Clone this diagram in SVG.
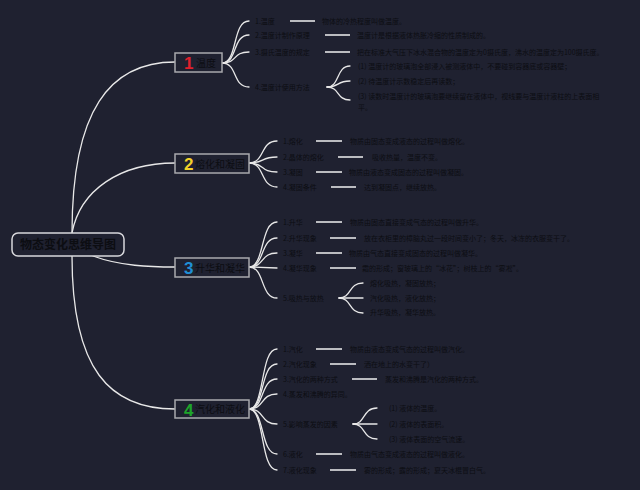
<svg xmlns="http://www.w3.org/2000/svg" width="640" height="490" viewBox="0 0 640 490">
<style>
.bg{fill:#1f2130}
.c{fill:none;stroke:#e8e8e8;stroke-width:1.3;stroke-linecap:round}
.d{fill:none;stroke:#f0f0f0;stroke-width:1.6}
.t{font-family:"Noto Sans CJK SC","Noto Sans",sans-serif;font-size:7px;fill:#0c0d12}
.box{fill:#1f2130;stroke:#a9a9ad;stroke-width:1.5}
.root{fill:#1f2130;stroke:#d8d8dc;stroke-width:1.5}
.lab{font-family:"Noto Sans CJK SC","Noto Sans",sans-serif;font-size:10px;fill:#0c0d12}
.num{font-family:"Liberation Sans",Arial,sans-serif;font-size:17px;font-weight:bold}
</style>
<rect class="bg" x="0" y="0" width="640" height="490"/>
<g id="connectors">
<path class="c" d="M72,233 C72,110 110,62 175,62"/>
<path class="c" d="M72,233 C80,190 120,163 175,163"/>
<path class="c" d="M93,256 C120,266 150,267 175,267"/>
<path class="c" d="M72,256 C72,370 110,409 175,409"/>
<path class="c" d="M222,63 C238,63 232,21 249,21"/>
<path class="c" d="M222,63 C238,63 232,35 249,35"/>
<path class="c" d="M222,63 C238,63 232,52 249,52"/>
<path class="c" d="M222,63 C238,63 232,87 249,87"/>
<path class="c" d="M327,87 C340,87 336,66 350,66"/>
<path class="c" d="M327,87 C340,87 336,81 350,81"/>
<path class="c" d="M327,87 C340,87 336,100 350,100"/>
<path class="c" d="M249,163 C265,163 260,141 277,141"/>
<path class="c" d="M249,163 C265,163 260,157 277,157"/>
<path class="c" d="M249,163 C265,163 260,172 277,172"/>
<path class="c" d="M249,163 C265,163 260,187 277,187"/>
<path class="c" d="M249,267 C265,267 260,222 277,222"/>
<path class="c" d="M249,267 C265,267 260,238 277,238"/>
<path class="c" d="M249,267 C265,267 260,253 277,253"/>
<path class="c" d="M249,267 L277,268"/>
<path class="c" d="M249,267 C265,267 260,298 277,298"/>
<path class="c" d="M339,298 C352,298 348,283 363,283"/>
<path class="c" d="M339,298 L363,298"/>
<path class="c" d="M339,298 C352,298 348,313 363,313"/>
<path class="c" d="M249,409 C265,409 260,349 277,349"/>
<path class="c" d="M249,409 C265,409 260,364 277,364"/>
<path class="c" d="M249,409 C265,409 260,379 277,379"/>
<path class="c" d="M249,409 C265,409 260,394 277,394"/>
<path class="c" d="M249,409 C265,409 260,424 277,424"/>
<path class="c" d="M249,409 C265,409 260,454 277,454"/>
<path class="c" d="M249,409 C265,409 260,470 277,470"/>
<path class="c" d="M353,424 C366,424 362,408 377,408"/>
<path class="c" d="M353,424 L377,424"/>
<path class="c" d="M353,424 C366,424 362,439 377,439"/>
<path class="d" d="M290,21H315M325,35H350M325,52H350"/>
<path class="d" d="M316,141H342M338,157H363M316,172H342M331,187H356"/>
<path class="d" d="M316,222H342M330,238H356M316,253H342M330,268H356"/>
<path class="d" d="M316,349H342M330,364H356M352,379H377M316,454H342M330,470H356"/>
</g>
<g id="root">
<rect class="root" x="12" y="233" width="112" height="23" rx="6"/>
<text x="68" y="249" text-anchor="middle" font-family="'Noto Sans CJK SC',sans-serif" font-size="12" font-weight="bold" fill="#0c0d12">物态变化思维导图</text>
</g>
<g id="n1">
<rect class="box" x="175" y="53" width="47" height="19"/>
<text class="num" x="184" y="69" fill="#e0202c">1</text>
<text class="lab" x="196" y="66.5">温度</text>
<text class="t" x="255" y="23.5">1.温度</text>
<text class="t" x="322" y="23.5">物体的冷热程度叫做温度。</text>
<text class="t" x="255" y="37.5">2.温度计制作原理</text>
<text class="t" x="357" y="37.5">温度计是根据液体热胀冷缩的性质制成的。</text>
<text class="t" x="255" y="54.5">3.摄氏温度的规定</text>
<text class="t" x="357" y="54.5">把在标准大气压下冰水混合物的温度定为0摄氏度，沸水的温度定为100摄氏度。</text>
<text class="t" x="255" y="89.5">4.温度计使用方法</text>
<text class="t" x="358" y="68.5">(1)  温度计的玻璃泡全部浸入被测液体中，不要碰到容器底或容器壁；</text>
<text class="t" x="358" y="83.5">(2)  待温度计示数稳定后再读数；</text>
<text class="t" x="358" y="99">(3)  读数时温度计的玻璃泡要继续留在液体中，视线要与温度计液柱的上表面相</text>
<text class="t" x="358" y="110">平。</text>
</g>
<g id="n2">
<rect class="box" x="175" y="154" width="74" height="19"/>
<text class="num" x="184" y="170" fill="#f2d22a">2</text>
<text class="lab" x="195" y="167.5" font-size="9.5">熔化和凝固</text>
<text class="t" x="283" y="143.5">1.熔化</text>
<text class="t" x="350" y="143.5">物质由固态变成液态的过程叫做熔化。</text>
<text class="t" x="283" y="159.5">2.晶体的熔化</text>
<text class="t" x="372" y="159.5">吸收热量，温度不变。</text>
<text class="t" x="283" y="174.5">3.凝固</text>
<text class="t" x="349" y="174.5">物质由液态变成固态的过程叫做凝固。</text>
<text class="t" x="283" y="189.5">4.凝固条件</text>
<text class="t" x="364" y="189.5">达到凝固点，继续放热。</text>
</g>
<g id="n3">
<rect class="box" x="175" y="258" width="74" height="19"/>
<text class="num" x="184" y="274" fill="#1f8fd6">3</text>
<text class="lab" x="195" y="271.5" font-size="9.5">升华和凝华</text>
<text class="t" x="283" y="224.5">1.升华</text>
<text class="t" x="350" y="224.5">物质由固态直接变成气态的过程叫做升华。</text>
<text class="t" x="283" y="240.5">2.升华现象</text>
<text class="t" x="364" y="240.5">放在衣柜里的樟脑丸过一段时间变小了；冬天，冰冻的衣服变干了。</text>
<text class="t" x="283" y="255.5">3.凝华</text>
<text class="t" x="349" y="255.5">物质由气态直接变成固态的过程叫做凝华。</text>
<text class="t" x="283" y="270.5">4.凝华现象</text>
<text class="t" x="362" y="270.5">霜的形成；窗玻璃上的“冰花”；树枝上的“雾凇”。</text>
<text class="t" x="283" y="300.5">5.吸热与放热</text>
<text class="t" x="370" y="285.5">熔化吸热，凝固放热；</text>
<text class="t" x="370" y="300.5">汽化吸热，液化放热；</text>
<text class="t" x="370" y="315">升华吸热，凝华放热。</text>
</g>
<g id="n4">
<rect class="box" x="175" y="400" width="74" height="18"/>
<text class="num" x="184" y="416" fill="#1ea52a">4</text>
<text class="lab" x="195" y="413" font-size="9.5">汽化和液化</text>
<text class="t" x="283" y="351.5">1.汽化</text>
<text class="t" x="350" y="351.5">物质由液态变成气态的过程叫做汽化。</text>
<text class="t" x="283" y="366.5">2.汽化现象</text>
<text class="t" x="364" y="366.5">洒在地上的水变干了）</text>
<text class="t" x="283" y="381.5">3.汽化的两种方式</text>
<text class="t" x="385" y="381.5">蒸发和沸腾是汽化的两种方式。</text>
<text class="t" x="283" y="396.5">4.蒸发和沸腾的异同。</text>
<text class="t" x="283" y="426.5">5.影响蒸发的因素</text>
<text class="t" x="389" y="410.5">(1)  液体的温度。</text>
<text class="t" x="389" y="426.5">(2)  液体的表面积。</text>
<text class="t" x="389" y="441.5">(3)  液体表面的空气流速。</text>
<text class="t" x="283" y="456.5">6.液化</text>
<text class="t" x="350" y="456.5">物质由气态变成液态的过程叫做液化。</text>
<text class="t" x="283" y="472.5">7.液化现象</text>
<text class="t" x="364" y="472.5">雾的形成；露的形成；夏天冰棍冒白气。</text>
</g>
</svg>
